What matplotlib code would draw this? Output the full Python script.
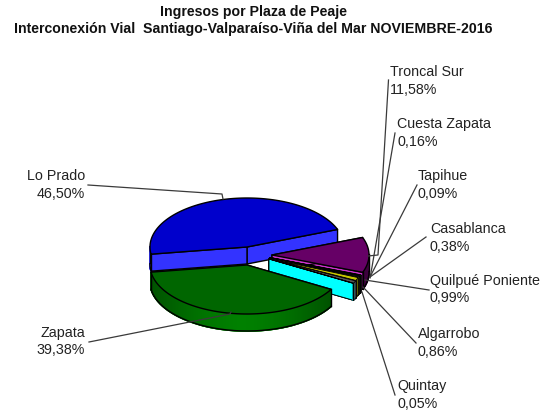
import numpy as np
import matplotlib
matplotlib.use('Agg')
import matplotlib.pyplot as plt
from matplotlib.patches import Polygon

plt.rcParams['font.family'] = ['Liberation Sans', 'DejaVu Sans']

names = ['Lo Prado', 'Zapata', 'Quintay', 'Algarrobo', 'Quilpué Poniente',
         'Casablanca', 'Tapihue', 'Cuesta Zapata', 'Troncal Sur']
values = [46.50, 39.38, 0.05, 0.86, 0.99, 0.38, 0.09, 0.16, 11.58]
pct_labels = ['46,50%', '39,38%', '0,05%', '0,86%', '0,99%',
              '0,38%', '0,09%', '0,16%', '11,58%']
top_colors = ['#0000cc', '#006600', '#00cccc', '#555555', '#c8c800',
              '#222222', '#333333', '#222222', '#660066']
side_colors = ['#3333ff', '#008000', '#00ffff', '#555555', '#999900',
               '#333333', '#333333', '#333333', '#cc33cc']
outer_colors = ['#3333ff', '#008000', '#00ffff', '#555555', '#999900',
                '#333333', '#333333', '#333333', '#660066']
# exploded position of each slice, in pixels
apex_x = [247, 247, 269, 269, 269, 269.5, 270, 270, 272]
apex_y = [247, 265, 259, 259, 258.5, 258, 258, 257.5, 255]

start = 21.0
rx, ry = 97, 49
depth = 17

# label x, first line y
label_x = [85, 85, 397, 418, 430, 430, 418, 397, 390]
label_y = [176, 333, 386, 334, 281, 229, 176, 124, 72]
leaders = [
    [(88, 185), (222, 194), (223, 199)],
    [(89, 342), (230, 314), (231, 312)],
    [(395, 395), (362, 292)],
    [(416, 343), (363, 287)],
    [(429, 290), (365, 280)],
    [(426, 237), (370, 277)],
    [(417, 185), (370, 277)],
    [(395, 133), (372, 267), (370, 278)],
    [(388.5, 80), (378, 255), (368, 256)],
]

fig = plt.figure(figsize=(5.52, 4.12), dpi=100)
ax = fig.add_axes([0, 0, 1, 1])
ax.set_xlim(0, 552)
ax.set_ylim(412, 0)
ax.axis('off')


def mix(c1, c2, t):
    c1 = np.array(matplotlib.colors.to_rgb(c1))
    c2 = np.array(matplotlib.colors.to_rgb(c2))
    return tuple(c1 + (c2 - c1) * t)


def draw_slice(i, a1, a2, z):
    cx, cy = apex_x[i], apex_y[i]
    edge = 1.0 if values[i] > 5 else 0.6
    th = np.radians(np.linspace(a1, a2, max(int(a2 - a1) * 2, 4)))
    xs = cx + rx * np.cos(th)
    ys = cy - ry * np.sin(th)
    # radial walls
    for x_end, y_end in [(xs[0], ys[0]), (xs[-1], ys[-1])]:
        ax.add_patch(Polygon([(cx, cy), (x_end, y_end), (x_end, y_end + depth), (cx, cy + depth)],
                             fc=side_colors[i], ec='black', lw=edge, joinstyle='round', zorder=z))
    # outer wall, only the part looking at the viewer, shaded along x
    front = np.sin(th) <= 0.02
    if front.sum() > 1:
        fx, fy = xs[front], ys[front]
        dark = mix(outer_colors[i], 'black', 0.4)
        for k in range(len(fx) - 1):
            t = abs(fx[k] - cx + 5) / rx
            col = mix(outer_colors[i], dark, min(t, 1) ** 1.5)
            if values[i] > 45:
                col = outer_colors[i]
            ax.add_patch(Polygon([(fx[k], fy[k]), (fx[k + 1], fy[k + 1]),
                                  (fx[k + 1], fy[k + 1] + depth), (fx[k], fy[k] + depth)],
                                 fc=col, ec=col, lw=1.2, zorder=z))
        ax.plot(fx, fy + depth, color='black', lw=edge, solid_capstyle='round', zorder=z)
        ax.plot([fx[0], fx[0]], [fy[0], fy[0] + depth], color='black', lw=edge, zorder=z)
        ax.plot([fx[-1], fx[-1]], [fy[-1], fy[-1] + depth], color='black', lw=edge, zorder=z)
    # top face
    pts = [(cx, cy)] + list(zip(xs, ys))
    ax.add_patch(Polygon(pts, fc=top_colors[i], ec='black', lw=edge, joinstyle='round', zorder=z))


angles = start + np.concatenate([[0], np.cumsum(values)]) * 3.6

# back to front: Lo Prado, Troncal, small slices, then Zapata on top
order = [0, 8, 7, 6, 5, 4, 3, 2, 1]
for n, i in enumerate(order):
    draw_slice(i, angles[i], angles[i + 1], 2 + n)

for i in range(len(names)):
    xs, ys = zip(*leaders[i])
    ax.plot(xs, ys, color='#3a3a3a', lw=0.9, zorder=20)
    ha = 'right' if label_x[i] < 100 else 'left'
    ax.text(label_x[i], label_y[i], names[i], ha=ha, va='center', fontsize=10.3, color='#222222')
    ax.text(label_x[i], label_y[i] + 17.5, pct_labels[i], ha=ha, va='center', fontsize=10.3, color='#222222')

ax.text(253, 12, 'Ingresos por Plaza de Peaje', ha='center', va='center',
        fontsize=10.2, fontweight='bold', color='#111111')
ax.text(253, 29, 'Interconexión Vial  Santiago-Valparaíso-Viña del Mar NOVIEMBRE-2016', ha='center', va='center',
        fontsize=10.2, fontweight='bold', color='#111111')

fig.savefig('out.png', dpi=100)
